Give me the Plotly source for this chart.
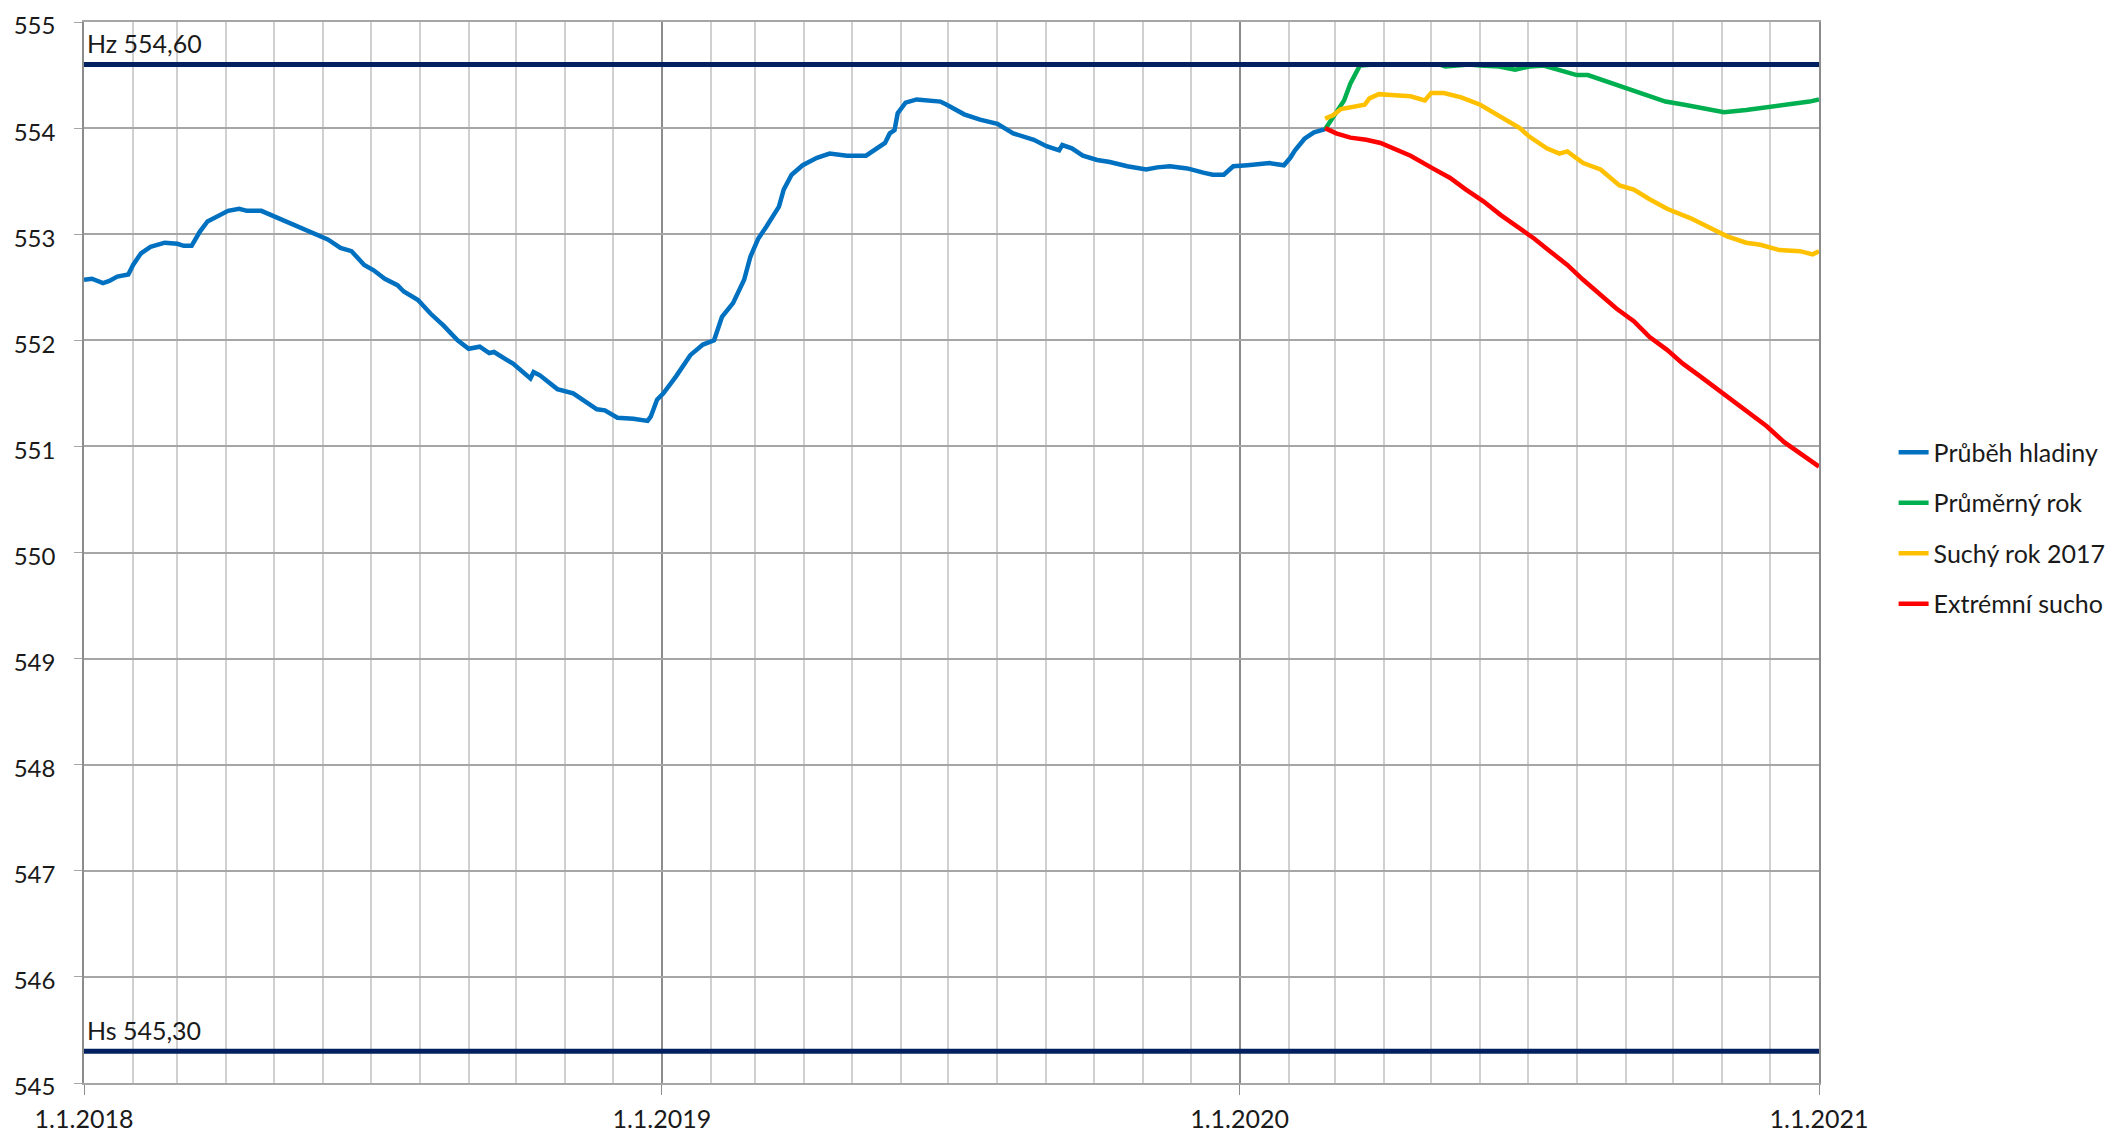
import pandas as pd
import plotly.graph_objects as go

START = "2018-01-01"

# ---- data (days since 1.1.2018, water level m n.m.) ----
blue_day = [0, 5, 12, 16, 21, 28, 31, 36, 42, 51, 59, 63, 68, 73, 78, 84, 91, 98, 103, 112,
            120, 126, 137, 145, 154, 162, 169, 177, 183, 190, 198, 202, 211, 219, 227, 236,
            243, 250, 256, 259, 265, 271, 282, 284, 288, 299, 309, 324, 329, 337, 347, 356,
            358, 362, 366, 374, 383, 391, 398, 403, 410, 417, 421, 426, 431, 439, 442, 447,
            454, 463, 471, 482, 494, 498, 506, 509, 512, 514, 519, 526, 541, 545, 556, 566,
            577, 587, 600, 608, 616, 618, 624, 631, 640, 648, 659, 671, 678, 686, 697, 707,
            713, 720, 726, 735, 749, 758, 762, 765, 771, 777, 784]
blue_level = [552.57, 552.58, 552.54, 552.56, 552.60, 552.62, 552.71, 552.82, 552.88, 552.92,
              552.91, 552.89, 552.89, 553.02, 553.12, 553.17, 553.22, 553.24, 553.22, 553.22,
              553.17, 553.13, 553.06, 553.01, 552.95, 552.87, 552.84, 552.71, 552.66, 552.58,
              552.52, 552.46, 552.38, 552.25, 552.14, 552.00, 551.92, 551.94, 551.88, 551.89,
              551.83, 551.78, 551.64, 551.70, 551.67, 551.54, 551.50, 551.35, 551.34, 551.27,
              551.26, 551.24, 551.28, 551.44, 551.50, 551.66, 551.86, 551.96, 552.00, 552.22,
              552.35, 552.57, 552.79, 552.96, 553.07, 553.26, 553.42, 553.56, 553.65, 553.72,
              553.76, 553.74, 553.74, 553.78, 553.86, 553.95, 553.98, 554.14, 554.24, 554.27,
              554.25, 554.22, 554.13, 554.08, 554.04, 553.95, 553.89, 553.83, 553.79, 553.84,
              553.81, 553.74, 553.70, 553.68, 553.64, 553.61, 553.63, 553.64, 553.62, 553.58,
              553.56, 553.56, 553.64, 553.65, 553.67, 553.65, 553.72, 553.79, 553.90, 553.96,
              553.99]

green_day = [784, 791, 796, 800, 806, 815, 830, 845, 856, 860, 868, 875, 882, 894, 904, 913,
             922, 931, 943, 950, 962, 976, 987, 999, 1011, 1022, 1036, 1050, 1067, 1078, 1090, 1096]
green_level = [553.99, 554.14, 554.26, 554.42, 554.59, 554.60, 554.60, 554.60, 554.60, 554.58,
               554.59, 554.60, 554.59, 554.58, 554.55, 554.58, 554.59, 554.55, 554.50, 554.50,
               554.44, 554.36, 554.31, 554.25, 554.22, 554.19, 554.15, 554.17, 554.20, 554.22,
               554.25, 554.27]

yellow_day = [784, 789, 794, 800, 809, 812, 818, 828, 838, 847, 851, 859, 870, 882, 894, 907,
              913, 924, 932, 937, 947, 958, 970, 979, 989, 1000, 1015, 1027, 1038, 1050, 1059,
              1071, 1084, 1092, 1096]
yellow_level = [554.09, 554.12, 554.18, 554.20, 554.22, 554.28, 554.32, 554.31, 554.30, 554.26,
                554.33, 554.33, 554.29, 554.22, 554.12, 554.00, 553.92, 553.81, 553.76, 553.78,
                553.67, 553.61, 553.46, 553.42, 553.33, 553.24, 553.15, 553.06, 552.98, 552.92,
                552.90, 552.85, 552.84, 552.81, 552.84]

red_day = [784, 791, 800, 810, 819, 829, 838, 852, 863, 873, 884, 895, 905, 916, 926, 937,
           947, 958, 968, 979, 989, 1000, 1010, 1021, 1031, 1042, 1052, 1063, 1074, 1084, 1096]
red_level = [554.00, 553.95, 553.91, 553.89, 553.86, 553.80, 553.74, 553.62, 553.53, 553.42,
             553.31, 553.18, 553.08, 552.96, 552.84, 552.71, 552.57, 552.43, 552.30, 552.18,
             552.03, 551.91, 551.78, 551.66, 551.55, 551.42, 551.31, 551.19, 551.04, 550.93,
             550.81]

series_names = ["Průběh hladiny", "Průměrný rok", "Suchý rok 2017", "Extrémní sucho"]
series_colors = ["#0070C0", "#00B050", "#FFC000", "#FF0000"]

limit_levels = [554.60, 545.30]
limit_labels = ["Hz 554,60", "Hs 545,30"]
limit_color = "#002060"

x_range = ["2018-01-01", "2021-01-01"]
y_range = [545, 555]

FONT = "Lato"
TXT = "#1a1a1a"


def to_dates(days):
    return pd.Timestamp(START) + pd.to_timedelta(days, unit="D")


fig = go.Figure()
data = [(blue_day, blue_level), (green_day, green_level),
        (yellow_day, yellow_level), (red_day, red_level)]
for i, ((d, v), name, col) in enumerate(zip(data, series_names, series_colors)):
    fig.add_trace(go.Scatter(x=to_dates(d), y=v, mode="lines", name=name,
                             legendgroup=str(i),
                             line=dict(color=col, width=4.5)))

for lvl, lab in zip(limit_levels, limit_labels):
    fig.add_shape(type="line", xref="paper", x0=0, x1=1, yref="y", y0=lvl, y1=lvl,
                  line=dict(color=limit_color, width=5), layer="above")
    fig.add_annotation(xref="paper", x=0, xanchor="left", xshift=1, yref="y", y=lvl,
                       yanchor="bottom", yshift=4, text=lab, showarrow=False,
                       font=dict(family=FONT, size=25, color=TXT))

# the page body adds an 8px offset, so the figure is 8px smaller than the window
fig.update_layout(
    width=2116, height=1127,
    margin=dict(l=76, r=305, t=14, b=52, autoexpand=False),
    paper_bgcolor="white", plot_bgcolor="white",
    font=dict(family=FONT, size=24, color=TXT),
    showlegend=True,
    legend=dict(x=1.043, xanchor="left", y=0.616, yanchor="top",
                font=dict(family=FONT, size=25, color=TXT),
                tracegroupgap=15, bgcolor="rgba(0,0,0,0)"),
)

fig.update_xaxes(
    type="date", range=x_range, automargin=False, ticklabeloverflow="allow",
    tick0="2018-01-01", dtick="M12", tickformat="%-d.%-m.%Y",
    showgrid=True, gridcolor="#8c8c8c", gridwidth=1.5,
    ticks="outside", ticklen=10, tickcolor="#8c8c8c", ticklabelstandoff=3,
    minor=dict(dtick="M1", tick0="2018-01-01", showgrid=True, gridcolor="#d0d0d0",
               gridwidth=1.5, ticks=""),
    showline=True, linecolor="#a6a6a6", linewidth=1.5, mirror=True,
    zeroline=False,
    tickfont=dict(family=FONT, size=25, color=TXT),
)
fig.update_yaxes(
    range=y_range, tick0=545, dtick=1, automargin=False, ticklabeloverflow="allow",
    showgrid=True, gridcolor="#a6a6a6", gridwidth=1.5,
    ticks="outside", ticklen=8, tickcolor="#a6a6a6", ticklabelstandoff=14,
    ticklabelshift=4,
    showline=True, linecolor="#8c8c8c", linewidth=1.5, mirror=True,
    zeroline=False,
    tickfont=dict(family=FONT, size=24, color=TXT),
)

fig.write_html("out.html")
